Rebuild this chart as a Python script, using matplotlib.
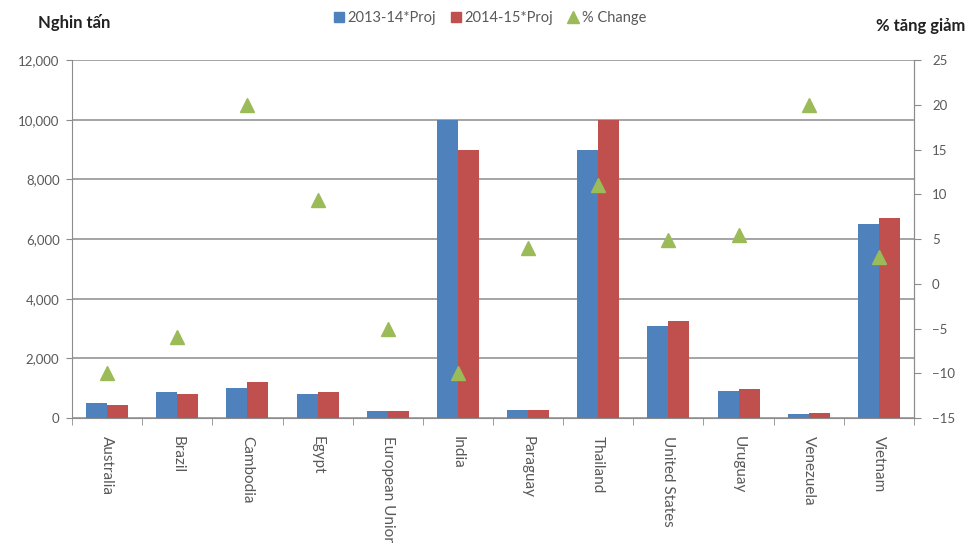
import numpy as np
import matplotlib
matplotlib.use("Agg")
import matplotlib.pyplot as plt
from matplotlib.lines import Line2D
from matplotlib.patches import Patch

plt.rcParams['font.family'] = ['Lato', 'Noto Sans', 'DejaVu Sans']

countries = ["Australia", "Brazil", "Cambodia", "Egypt", "European Union", "India",
             "Paraguay", "Thailand", "United States", "Uruguay", "Venezuela", "Vietnam"]
proj_1314 = [500, 880, 1000, 800, 230, 10000, 270, 9000, 3100, 915, 120, 6500]
proj_1415 = [450, 800, 1200, 880, 230, 9000, 270, 10000, 3250, 960, 180, 6700]
pct_change = [-10, -6, 20, 9.4, -5, -10, 4, 11, 4.9, 5.5, 20, 3]

blue = '#4F81BD'
red = '#C0504D'
green = '#9BBB59'
grey = '#595959'
line_grey = '#8C8C8C'

fig = plt.figure(figsize=(9.68, 5.43), dpi=100)
ax = fig.add_axes([0.0744, 0.2302, 0.8698, 0.6593])
ax2 = ax.twinx()

x = np.arange(len(countries))
w = 0.3
ax.bar(x - w / 2, proj_1314, w, color=blue, zorder=3)
ax.bar(x + w / 2, proj_1415, w, color=red, zorder=3)

ax.set_xlim(-0.5, len(countries) - 0.5)
ax.set_ylim(0, 12000)
ax.set_yticks(np.arange(0, 12001, 2000))
ax.set_yticklabels(['{:,}'.format(v) for v in range(0, 12001, 2000)])
ax.yaxis.grid(True, color=line_grey, lw=1.1)
ax.set_axisbelow(True)

# category labels sit under the bars, ticks go between categories
ax.set_xticks(x)
ax.set_xticklabels(countries, rotation=270, va='top', ha='center')
ax.tick_params(axis='x', length=0, pad=13, labelsize=11, labelcolor=grey)
ax.set_xticks(np.arange(-0.5, len(countries)), minor=True)
ax.tick_params(axis='x', which='minor', length=5, color=line_grey, direction='out')
ax.tick_params(axis='y', length=4, color=line_grey, labelsize=9.5, labelcolor=grey, pad=5)

for s in ['left', 'bottom', 'right']:
    ax.spines[s].set_color(line_grey)
ax.spines['top'].set_visible(False)

ax2.plot(x, pct_change, linestyle='none', marker='^', markersize=10, color=green, zorder=5)
ax2.set_ylim(-15, 25)
ax2.set_yticks(np.arange(-15, 26, 5))
ax2.tick_params(axis='y', length=5, color=line_grey, labelsize=9.5, labelcolor=grey, pad=8)
ax2.spines['right'].set_color(line_grey)
ax2.spines['left'].set_visible(False)
ax2.spines['top'].set_visible(False)
ax2.spines['bottom'].set_visible(False)

fig.text(0.039, 0.958, "Nghin tấn", fontsize=12, fontweight='bold', color='#222222', va='center')
fig.text(0.997, 0.952, "% tăng giảm", fontsize=12, fontweight='bold', color='#222222',
         va='center', ha='right')

handles = [Patch(color=blue), Patch(color=red),
           Line2D([], [], linestyle='none', marker='^', color=green, markersize=8)]
fig.legend(handles, ["2013-14*Proj", "2014-15*Proj", "% Change"], loc='center',
           bbox_to_anchor=(0.506, 0.967), ncol=3, frameon=False, fontsize=10.5,
           labelcolor=grey, handlelength=0.7, handleheight=0.7, handletextpad=0.25,
           columnspacing=1.0)

fig.savefig("out.png", dpi=100, facecolor='white')
